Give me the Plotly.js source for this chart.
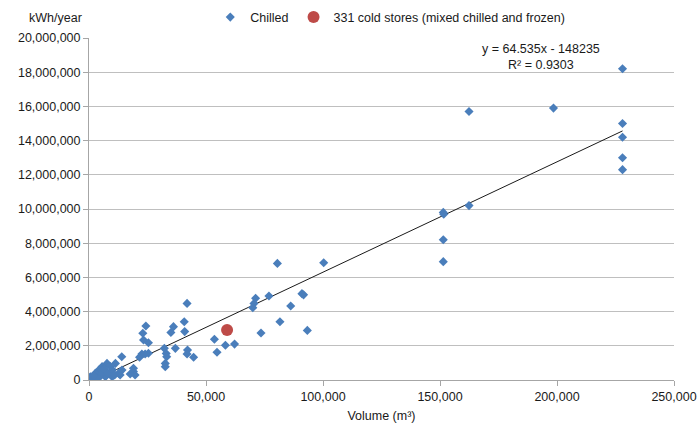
<!DOCTYPE html>
<html>
<head>
<meta charset="utf-8">
<script src="https://cdn.plot.ly/plotly-3.0.1.min.js"></script>
<style>html,body{margin:0;padding:0;background:#fff;}#chart{width:698px;height:423px;}</style>
</head>
<body>
<div id="chart"></div>
<script>
// Chilled stores: volume (m³) and energy (kWh/year)
const chilledVolume = [
  228000, 228000, 228000, 228000, 228000, 198500, 162400, 162400,
  151400, 151600, 151400, 151400, 100300, 93300, 91000, 91700,
  86200, 81600, 80500, 76900, 73500, 71200, 70500, 70000,
  62200, 58300, 54700, 53600, 44700, 42100, 41900, 41900,
  40700, 40900, 36900, 36100, 35000, 32200, 33000, 33200,
  32600, 32600, 25400, 24300, 23000, 23300, 22600, 21600,
  25400, 24000, 19000, 19000, 19700, 17600, 14000, 13300,
  11300, 7700, 5600, 4200, 2700, 600, 0, 9900,
  12700, 7000, 14100, 3000, 5000, 6000, 8000, 10000,
  1500, 4000, 9000, 11000, 6500, 2000
];
const chilledEnergy = [
  18200000, 15000000, 14200000, 13000000, 12300000, 15900000, 15700000, 10200000,
  9800000, 9700000, 8200000, 6920000, 6860000, 2900000, 5050000, 4980000,
  4330000, 3410000, 6820000, 4910000, 2750000, 4780000, 4480000, 4230000,
  2100000, 2030000, 1620000, 2380000, 1330000, 1750000, 1520000, 4480000,
  3410000, 2830000, 1850000, 3120000, 2780000, 1850000, 1550000, 1360000,
  970000, 780000, 2180000, 3160000, 2730000, 2340000, 1520000, 1330000,
  1560000, 1520000, 680000, 490000, 290000, 350000, 1360000, 290000,
  970000, 970000, 780000, 580000, 390000, 190000, 20000, 190000,
  390000, 190000, 580000, 150000, 300000, 500000, 400000, 600000,
  50000, 100000, 800000, 300000, 650000, 250000
];
// 331 cold stores (mixed chilled and frozen)
const mixedVolume = [59000];
const mixedEnergy = [2920000];
// Linear trendline as reported: y = 64.535x - 148235
const trendSlope = 64.535;
const trendIntercept = -148235;
const trendX = [1000, 228000];
const trendY = trendX.map(x => trendSlope * x + trendIntercept);

const xTicks = [0, 50000, 100000, 150000, 200000, 250000];
const yTicks = [0, 2000000, 4000000, 6000000, 8000000, 10000000, 12000000, 14000000, 16000000, 18000000, 20000000];

const font = {family: 'Liberation Sans, Arial, sans-serif', size: 12.5, color: '#1a1a1a'};

const traces = [
  {
    x: trendX, y: trendY, type: 'scatter', mode: 'lines',
    line: {color: '#1a1a1a', width: 1}, showlegend: false, hoverinfo: 'skip'
  },
  {
    x: chilledVolume, y: chilledEnergy, type: 'scatter', mode: 'markers',
    name: 'Chilled',
    marker: {symbol: 'diamond', size: 7, color: '#4a7ebb'}
  },
  {
    x: mixedVolume, y: mixedEnergy, type: 'scatter', mode: 'markers',
    name: '331 cold stores (mixed chilled and frozen)',
    marker: {symbol: 'circle', size: 12, color: '#be4b48'}
  }
];

const layout = {
  width: 698, height: 423,
  margin: {l: 89, r: 24, t: 38, b: 43, autoexpand: false},
  paper_bgcolor: '#fff', plot_bgcolor: '#fff',
  font: font,
  showlegend: true,
  legend: {
    orientation: 'h', x: 0.515, xanchor: 'center', y: 1.06, yanchor: 'middle',
    font: font, tracegroupgap: 0, bgcolor: 'rgba(0,0,0,0)'
  },
  xaxis: {
    range: [0, 250000], tickvals: xTicks, tickformat: ',d',
    showgrid: false, zeroline: false, showline: true, linecolor: '#a6a6a6', linewidth: 1,
    ticks: 'outside', ticklen: 5, tickcolor: '#a6a6a6',
    tickfont: font, automargin: false,
    title: {text: 'Volume (m³)', font: font, standoff: 8}
  },
  yaxis: {
    range: [0, 20000000], tickvals: yTicks, tickformat: ',d',
    showgrid: true, gridcolor: '#bfbfbf', gridwidth: 1,
    zeroline: false, showline: true, linecolor: '#a6a6a6', linewidth: 1,
    ticks: 'outside', ticklen: 5, tickcolor: '#a6a6a6',
    tickfont: font, automargin: false
  },
  annotations: [
    {
      xref: 'paper', yref: 'paper', x: -0.058, y: 1.058, xanchor: 'center', yanchor: 'middle',
      text: 'kWh/year', showarrow: false, font: font
    },
    {
      xref: 'paper', yref: 'paper', x: 0.773, y: 0.944, xanchor: 'center', yanchor: 'middle',
      text: 'y = 64.535x - 148235<br>R² = 0.9303', showarrow: false, font: font, align: 'center'
    }
  ]
};

Plotly.newPlot('chart', traces, layout, {displayModeBar: false, staticPlot: true});
</script>
</body>
</html>
